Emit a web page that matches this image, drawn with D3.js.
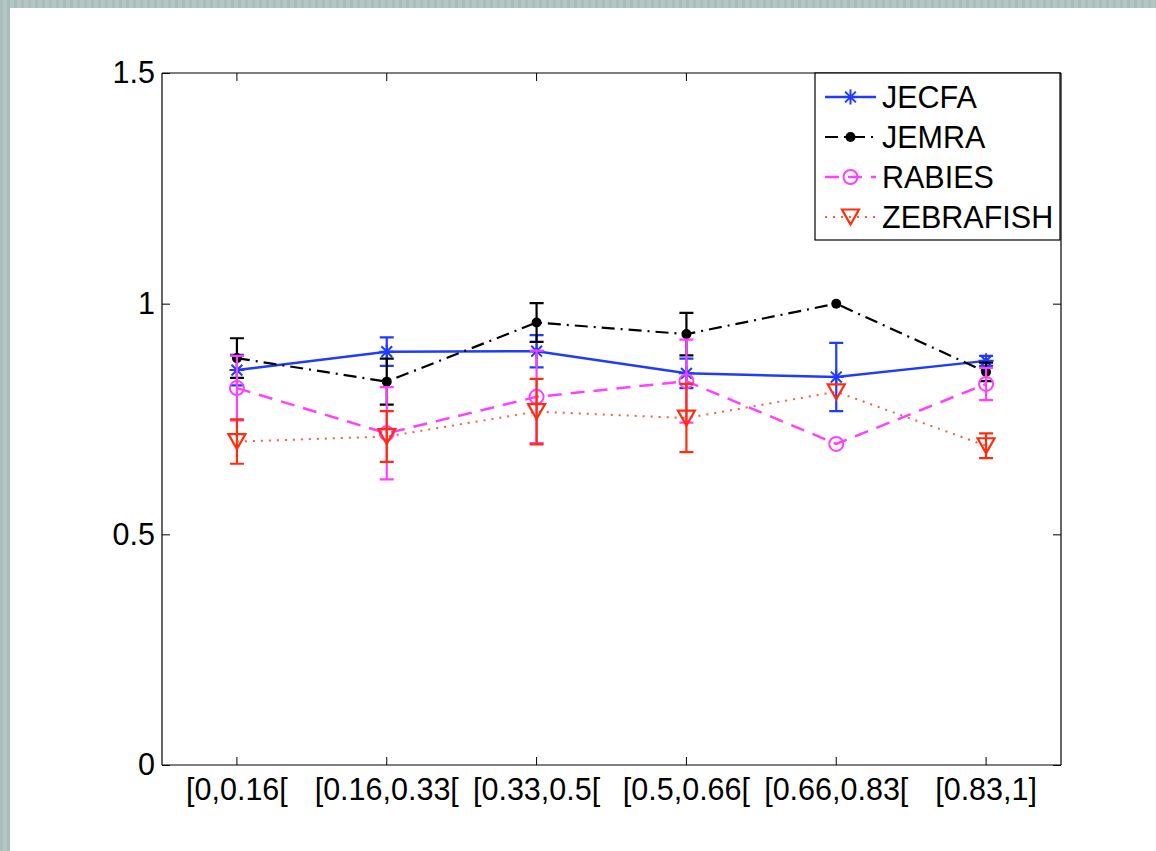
<!DOCTYPE html>
<html>
<head>
<meta charset="utf-8">
<script src="https://cdn.jsdelivr.net/npm/d3@7"></script>
<style>
  html, body { margin: 0; padding: 0; background: #fff; }
  svg { display: block; }
  text { font-family: "Liberation Sans", Arial, Helvetica, sans-serif; fill: #000; }
</style>
</head>
<body>
<svg id="chart" width="1156" height="851"></svg>
<script>
// Interval bins on the x axis
const categories = ["[0,0.16[", "[0.16,0.33[", "[0.33,0.5[", "[0.5,0.66[", "[0.66,0.83[", "[0.83,1]"];

// Mean values and half-widths of the error bars per series
const jecfa        = [0.856, 0.896, 0.897, 0.849, 0.841, 0.876];
const jecfaErr     = [0.033, 0.031, 0.035, 0.032, 0.074, 0.011];
const jemra        = [0.882, 0.831, 0.959, 0.934, 1.000, 0.852];
const jemraErr     = [0.043, 0.050, 0.042, 0.046, 0.000, 0.020];
const rabies       = [0.817, 0.719, 0.798, 0.832, 0.696, 0.826];
const rabiesErr    = [0.070, 0.100, 0.100, 0.090, 0.000, 0.035];
const zebrafish    = [0.701, 0.712, 0.766, 0.752, 0.809, 0.692];
const zebrafishErr = [0.048, 0.055, 0.071, 0.074, 0.000, 0.027];

const seriesNames = ["JECFA", "JEMRA", "RABIES", "ZEBRAFISH"];
const yTicks = [0, 0.5, 1, 1.5];

const series = [
  { name: seriesNames[0], values: jecfa, errs: jecfaErr, color: "#1f3bff", lineColor: "#1f3bff", dash: null, width: 2.5, marker: "asterisk" },
  { name: seriesNames[1], values: jemra, errs: jemraErr, color: "#000000", lineColor: "#000000", dash: "13,6,2,6", width: 2.2, marker: "dot" },
  { name: seriesNames[2], values: rabies, errs: rabiesErr, color: "#ff40ff", lineColor: "#ff40ff", dash: "14,9", width: 2.5, marker: "circle" },
  { name: seriesNames[3], values: zebrafish, errs: zebrafishErr, color: "#ff2d0d", lineColor: "#ff5a40", dash: "2,6", width: 2, marker: "triangle" }
];

const svg = d3.select("#chart");

// Striped frame around the figure panel
const defs = svg.append("defs");
const pat = defs.append("pattern").attr("id", "stripes")
  .attr("width", 7).attr("height", 10).attr("patternUnits", "userSpaceOnUse");
pat.append("rect").attr("width", 7).attr("height", 10).attr("fill", "#a9bdbb");
pat.append("rect").attr("x", 3).attr("width", 4).attr("height", 10).attr("fill", "#b4c6c4");
svg.append("rect").attr("width", 1156).attr("height", 851).attr("fill", "url(#stripes)");
svg.append("rect").attr("x", 10).attr("y", 8).attr("width", 1146).attr("height", 843).attr("fill", "#ffffff");

const plot = { left: 162, right: 1061, top: 73, bottom: 765 };

const x = d3.scaleBand().domain(categories).range([plot.left, plot.right]).padding(0);
const cx = c => x(c) + x.bandwidth() / 2;
const y = d3.scaleLinear().domain([0, 1.5]).range([plot.bottom, plot.top]);

const g = svg.append("g");

// Axes with inward ticks on all four sides
const fmt = d => d3.format("")(d);
const axL = g.append("g").attr("transform", `translate(${plot.left},0)`)
  .call(d3.axisLeft(y).tickValues(yTicks).tickFormat(fmt).tickSize(-8).tickPadding(7));
const axR = g.append("g").attr("transform", `translate(${plot.right},0)`)
  .call(d3.axisRight(y).tickValues(yTicks).tickFormat("").tickSize(-8));
const axB = g.append("g").attr("transform", `translate(0,${plot.bottom})`)
  .call(d3.axisBottom(x).tickSize(-8).tickPadding(13));
const axT = g.append("g").attr("transform", `translate(0,${plot.top})`)
  .call(d3.axisTop(x).tickFormat("").tickSize(-8));

[axL, axR, axB, axT].forEach(a => {
  a.select(".domain").attr("stroke", "#000").attr("stroke-width", 1.2);
  a.selectAll(".tick line").attr("stroke", "#000").attr("stroke-width", 1);
  a.selectAll("text").attr("font-size", 30.5).attr("font-family", "Liberation Sans, Arial, sans-serif");
});
axL.select(".domain").attr("d", `M0,${plot.bottom}V${plot.top}`);
axR.select(".domain").attr("d", `M0,${plot.bottom}V${plot.top}`);
axB.select(".domain").attr("d", `M${plot.left},0H${plot.right}`);
axT.select(".domain").attr("d", `M${plot.left},0H${plot.right}`);

// Marker shapes
function drawMarker(sel, type, color, px, py) {
  if (type === "asterisk") {
    const r = 7.5, d = r * 0.72;
    const p = `M${px - r},${py}H${px + r}M${px},${py - r}V${py + r}` +
              `M${px - d},${py - d}L${px + d},${py + d}M${px - d},${py + d}L${px + d},${py - d}`;
    sel.append("path").attr("d", p).attr("stroke", color).attr("stroke-width", 2).attr("fill", "none");
  } else if (type === "dot") {
    sel.append("circle").attr("cx", px).attr("cy", py).attr("r", 5).attr("fill", color);
  } else if (type === "circle") {
    sel.append("circle").attr("cx", px).attr("cy", py).attr("r", 7)
      .attr("fill", "none").attr("stroke", color).attr("stroke-width", 2);
  } else if (type === "triangle") {
    const w = 8.5, h = 7.5;
    sel.append("path").attr("d", `M${px - w},${py - h}L${px + w},${py - h}L${px},${py + h}Z`)
      .attr("fill", "none").attr("stroke", color).attr("stroke-width", 2.2).attr("stroke-linejoin", "miter");
  }
}

const line = d3.line().x(d => cx(d.c)).y(d => y(d.v));

series.forEach(s => {
  const pts = categories.map((c, i) => ({ c, v: s.values[i], e: s.errs[i] }));
  const sg = g.append("g");

  // error bars
  pts.filter(p => p.e > 0).forEach(p => {
    const px = cx(p.c), y0 = y(p.v - p.e), y1 = y(p.v + p.e), cap = 7;
    sg.append("path")
      .attr("d", `M${px},${y0}V${y1}M${px - cap},${y0}H${px + cap}M${px - cap},${y1}H${px + cap}`)
      .attr("stroke", s.color).attr("stroke-width", 2.2).attr("fill", "none");
  });

  // connecting line
  sg.append("path").datum(pts).attr("d", line)
    .attr("fill", "none").attr("stroke", s.lineColor).attr("stroke-width", s.width)
    .attr("stroke-dasharray", s.dash);

  // markers
  pts.forEach(p => drawMarker(sg, s.marker, s.color, cx(p.c), y(p.v)));
});

// Legend
const leg = { x: 815, y: 73, w: 245, h: 167 };
const lg = svg.append("g");
lg.append("rect").attr("x", leg.x).attr("y", leg.y).attr("width", leg.w).attr("height", leg.h)
  .attr("fill", "#fff").attr("stroke", "#000").attr("stroke-width", 1.2);
series.forEach((s, i) => {
  const ly = 97 + i * 40;
  lg.append("line").attr("x1", 825).attr("x2", 876).attr("y1", ly).attr("y2", ly)
    .attr("stroke", s.lineColor).attr("stroke-width", s.width)
    .attr("stroke-dasharray", s.dash);
  drawMarker(lg, s.marker, s.color, 850.5, ly);
  lg.append("text").attr("x", 882).attr("y", ly + 10.5).attr("font-size", 30.5).text(s.name);
});
</script>
</body>
</html>
